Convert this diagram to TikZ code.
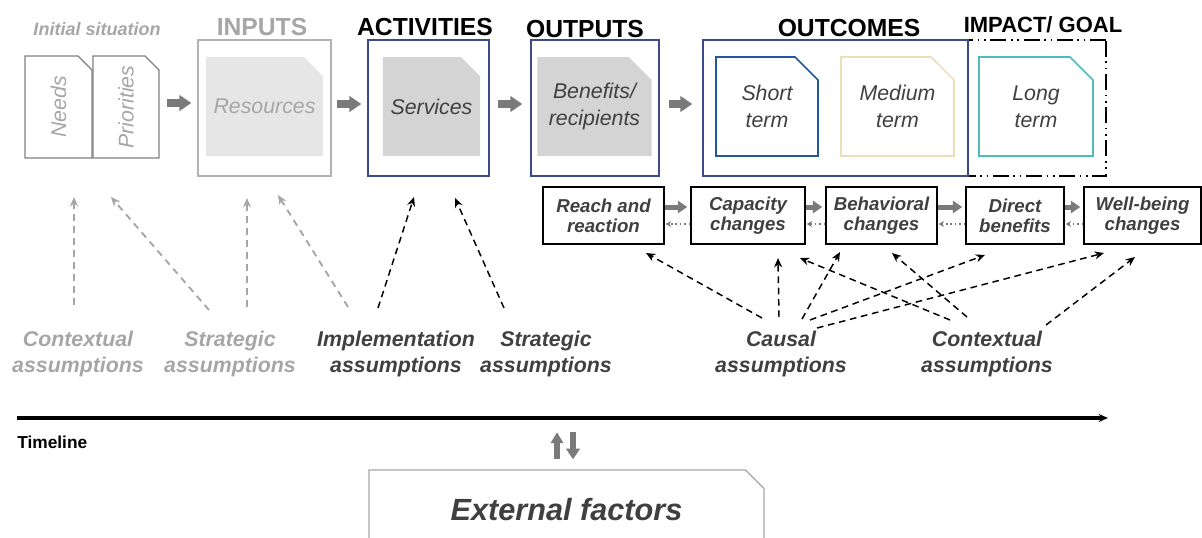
\documentclass[tikz,border=0pt]{standalone}
\usepackage{fontspec}
\setmainfont{Liberation Sans}
\usetikzlibrary{arrows.meta, calc, shapes.misc}

% one unit of the drawing
\def\pxu{0.75pt}

\definecolor{inkdark}{HTML}{404040}
\definecolor{inkgray}{HTML}{A6A6A6}
\definecolor{framegray}{HTML}{808080}
\definecolor{framelight}{HTML}{B3B3B3}
\definecolor{framenavy}{HTML}{3C4A8C}
\definecolor{shortblue}{HTML}{1F57A0}
\definecolor{midbeige}{HTML}{ECDFB8}
\definecolor{longteal}{HTML}{4CBCBC}
\definecolor{fillpale}{HTML}{E6E6E6}
\definecolor{fillmid}{HTML}{D4D4D4}
\definecolor{arrgray}{HTML}{7A7A7A}

\tikzset{
  chbox/.style 2 args={chamfered rectangle, chamfered rectangle corners=north east,
    chamfered rectangle xsep=#1*\pxu, chamfered rectangle ysep=#2*\pxu,
    inner sep=0pt, align=center, line width=1pt},
  dims/.style 2 args={minimum width=#1*\pxu, minimum height=#2*\pxu},
  head/.style={anchor=base, inner sep=0pt, font=\fontsize{18.5}{22}\selectfont\bfseries},
  boxtxt/.style={font=\fontsize{16}{20}\selectfont\itshape, text=inkdark},
  stage/.style={draw, line width=1.1pt, fill=white, inner sep=0pt, align=center,
    minimum height=57*\pxu, font=\fontsize{14}{15}\selectfont\bfseries\itshape, text=inkdark},
  assum/.style={anchor=north, inner sep=0pt, align=center,
    font=\fontsize{16}{19.5}\selectfont\bfseries\itshape},
  fatarr/.style={-{Triangle[length=9pt, width=11.5pt]}, line width=6pt, draw=arrgray},
  midarr/.style={-{Triangle[length=7pt, width=9pt]}, line width=3.75pt, draw=arrgray},
  backarr/.style={-{Stealth[length=4pt, width=4.5pt]}, line width=1.3pt, dotted, draw=arrgray},
  blackdash/.style={-{Stealth[length=7pt, width=6pt]}, line width=1.1pt, dash pattern=on 5pt off 3.5pt},
  graydash/.style={-{Stealth[length=7pt, width=6pt]}, line width=1.4pt, dash pattern=on 5pt off 4pt, draw=inkgray},
}

\begin{document}
\begin{tikzpicture}[x=\pxu, y=-\pxu]
  \useasboundingbox (0,0) rectangle (1202,537);
  \clip (0,0) rectangle (1202,537);

  % headings
  \node[head, text=inkgray, font=\fontsize{13.5}{16}\selectfont\bfseries\itshape] (hinit) at (97,35) {Initial situation};
  \node[head, text=inkgray] (hin) at (262,35) {INPUTS};
  \node[head] (hact) at (425,35) {ACTIVITIES};
  \node[head] (hout) at (585,37) {OUTPUTS};
  \node[head] (hoc) at (849,36) {OUTCOMES};
  \node[head, font=\fontsize{16.5}{20}\selectfont\bfseries] (himp) at (1043,32) {IMPACT/ GOAL};

  % initial situation
  \node[chbox={7}{7}, dims={67}{102}, draw=framegray, boxtxt, text=inkgray] (needs) at (58.5,107) {\rotatebox{90}{Needs}};
  \node[chbox={7}{7}, dims={66}{102}, draw=framegray, boxtxt, text=inkgray] (prio) at (126,107) {\rotatebox{90}{Priorities}};

  % inputs, activities, outputs
  \node[chbox={5}{5}, dims={133}{136}, draw=framelight] (inputs) at (264.5,108) {};
  \node[chbox={11.5}{11.5}, dims={109}{99}, fill=fillpale, boxtxt, text=inkgray] (res) at (264.5,106.5) {Resources};
  \node[chbox={5}{5}, dims={121}{136}, draw=framenavy] (acts) at (428.5,108) {};
  \node[chbox={11.5}{11.5}, dims={97}{99}, fill=fillmid, boxtxt] (serv) at (431.5,106.5) {Services};
  \node[chbox={5}{5}, dims={128}{136}, draw=framenavy] (outs) at (595,108) {};
  \node[chbox={11.5}{11.5}, dims={105}{99}, fill=fillmid, boxtxt] (bene) at (594.5,106.5) {Benefits/\\recipients};

  % outcomes and impact
  \node[chbox={14}{12}, dims={138}{136}, draw, dash pattern=on 12pt off 3.5pt on 1.2pt off 3.5pt on 1.2pt off 3.5pt] (impact) at (1037,108) {};
  \node[chbox={3}{3}, dims={265}{136}, draw=framenavy] (outc) at (835.5,108) {};
  \node[chbox={11.5}{11.5}, dims={102}{99}, draw=shortblue, line width=1.2pt, boxtxt] (short) at (767,106.5) {Short\\term};
  \node[chbox={11.5}{11.5}, dims={113}{99}, draw=midbeige, line width=1.2pt, boxtxt] (medium) at (897.5,106.5) {Medium\\term};
  \node[chbox={11.5}{11.5}, dims={114}{99}, draw=longteal, line width=1.2pt, boxtxt] (long) at (1036,106.5) {Long\\term};

  \foreach \a/\b/\s/\e in {prio/inputs/7/6, inputs/acts/5/6, acts/outs/8/8, outs/outc/9/10}
    \draw[fatarr, shorten <=\s*\pxu, shorten >=\e*\pxu] ([yshift=3pt]\a.east) -- ([yshift=3pt]\a.east -| \b.west);

  % chain of results
  \node[stage, minimum width=121*\pxu] (reach) at (603.5,215.5) {Reach and\\reaction};
  \node[stage, minimum width=114*\pxu] (cap) at (748,215.5) {Capacity\\changes};
  \node[stage, minimum width=111*\pxu] (beh) at (881.5,215.5) {Behavioral\\changes};
  \node[stage, minimum width=98*\pxu] (dir) at (1015,215.5) {Direct\\benefits};
  \node[stage, minimum width=117*\pxu] (well) at (1142.5,215.5) {Well-being\\changes};

  \foreach \a/\b in {reach/cap, cap/beh, beh/dir, dir/well} {
    \draw[midarr, shorten >=3*\pxu] ($(\a.east)+(0,-8.5)$) -- ($(\b.west)+(0,-8.5)$);
    \draw[backarr, shorten >=1*\pxu] ($(\b.west)+(0,8.5)$) -- ($(\a.east)+(0,8.5)$);
  }

  % assumptions
  \node[assum, text=inkgray] (ctxa) at (78,331) {Contextual\\assumptions};
  \node[assum, text=inkgray] (stra) at (230,331) {Strategic\\assumptions};
  \node[assum, text=inkdark] (impl) at (396,331) {Implementation\\assumptions};
  \node[assum, text=inkdark] (strb) at (546,331) {Strategic\\assumptions};
  \node[assum, text=inkdark] (caus) at (781,331) {Causal\\assumptions};
  \node[assum, text=inkdark] (ctxb) at (987,331) {Contextual\\assumptions};

  % arrow tips
  \coordinate (g1) at (74,197);
  \coordinate (g2) at (111,197);
  \coordinate (g3) at (247,198);
  \coordinate (g4) at (278,195);
  \coordinate (k1) at (414,197);
  \coordinate (k2) at (455,198);
  \coordinate (c1) at (646,253);
  \coordinate (c2) at (778,258);
  \coordinate (c3) at (840,252);
  \coordinate (c4) at (985,255);
  \coordinate (c5) at (1104,253);
  \coordinate (x1) at (800,258);
  \coordinate (x2) at (892,253);
  \coordinate (x3) at (1135,257);

  \draw[graydash] ($(ctxa.north)+(-4,-26)$) -- (g1);
  \draw[graydash] ($(stra.north)+(-21,-21)$) -- (g2);
  \draw[graydash] ($(stra.north)+(17,-24)$) -- (g3);
  \draw[graydash] ($(impl.north)+(-48,-24)$) -- (g4);
  \draw[blackdash] ($(impl.north)+(-18,-23)$) -- (k1);
  \draw[blackdash] ($(strb.north)+(-42,-23)$) -- (k2);
  \draw[blackdash] ($(caus.north)+(-19,-13)$) -- (c1);
  \draw[blackdash] ($(caus.north)+(-2,-14)$) -- (c2);
  \draw[blackdash] ($(caus.north)+(21,-12)$) -- (c3);
  \draw[blackdash] ($(caus.north)+(29,-11)$) -- (c4);
  \draw[blackdash] ($(caus.north)+(36,-3)$) -- (c5);
  \draw[blackdash] ($(ctxb.north)+(-37,-11)$) -- (x1);
  \draw[blackdash] ($(ctxb.north)+(-20,-14)$) -- (x2);
  \draw[blackdash] ($(ctxb.north)+(59,-6)$) -- (x3);

  % timeline
  \coordinate (tl0) at (17,418);
  \coordinate (tl1) at (1108,418);
  \draw[line width=2.4pt, -{Stealth[length=7pt, width=6pt]}] (tl0) -- (tl1);
  \node[anchor=base west, inner sep=0pt, font=\fontsize{13}{15}\selectfont\bfseries] (tltxt) at (17,448) {Timeline};

  % external factors
  \node[chbox={10}{8.5}, dims={395}{80}, draw=inkgray,
    font=\fontsize{23}{26}\selectfont\bfseries\itshape, text=inkdark] (ext) at (566.5,510) {External factors};
  \draw[midarr, line width=4pt, -{Triangle[length=8pt, width=9pt]}] ($(ext.north)+(-9.5,-10)$) -- ($(ext.north)+(-9.5,-37)$);
  \draw[midarr, line width=4pt, -{Triangle[length=8pt, width=10pt]}] ($(ext.north)+(6.5,-37)$) -- ($(ext.north)+(6.5,-10)$);
\end{tikzpicture}
\end{document}
